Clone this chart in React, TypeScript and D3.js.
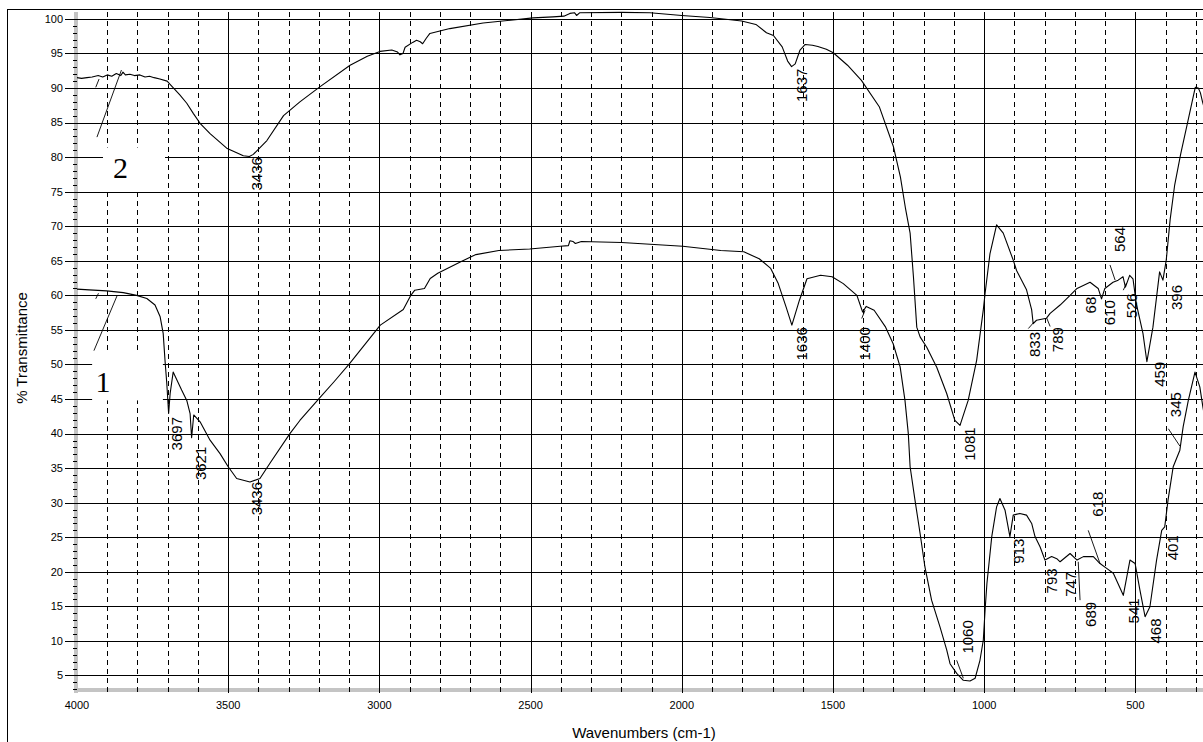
import React from 'react';
import * as d3 from 'd3';

const W = 1203;
const H = 742;

// ---------- data (wavenumber cm-1, %T) ----------
const spectrum2: [number, number][] = [
  [4000, 91.5], [3985, 91.4], [3967, 91.5], [3950, 91.6], [3930, 91.8], [3915, 91.6],
  [3900, 91.9], [3885, 91.7], [3870, 92.1], [3855, 91.8], [3848, 92.3], [3840, 91.9],
  [3825, 92.0], [3810, 91.8], [3792, 91.9], [3775, 91.6], [3760, 91.7], [3745, 91.5],
  [3726, 91.3], [3702, 91.0], [3683, 90.1], [3660, 89.0], [3637, 87.8], [3615, 86.3],
  [3593, 84.9], [3560, 83.4], [3505, 81.3], [3450, 80.2], [3430, 80.1], [3417, 80.4],
  [3372, 82.4], [3317, 86.0], [3263, 88.0], [3196, 90.2], [3097, 93.3], [3040, 94.6],
  [2998, 95.3], [2959, 95.5], [2940, 95.2], [2932, 94.8], [2922, 95.0], [2915, 95.9],
  [2890, 96.6], [2877, 96.9], [2865, 96.7], [2857, 96.4], [2845, 97.2], [2833, 97.9],
  [2767, 98.6], [2657, 99.4], [2492, 100.15], [2426, 100.3], [2390, 100.4], [2370, 100.8],
  [2355, 100.9], [2348, 100.5], [2337, 100.9], [2200, 100.95], [2105, 100.9], [2000, 100.5],
  [1907, 100.2], [1802, 99.7], [1755, 99.2], [1720, 98.0], [1697, 97.6], [1668, 95.95],
  [1650, 93.9], [1637, 93.1], [1625, 93.5], [1609, 95.5], [1592, 96.3], [1568, 96.2],
  [1550, 96.0], [1522, 95.6], [1499, 95.1], [1452, 93.3], [1406, 91.1], [1347, 87.3],
  [1300, 81.5], [1277, 77.1], [1260, 72.5], [1245, 69.0], [1234, 62.7], [1223, 55.4],
  [1212, 54.0], [1190, 52.5], [1157, 49.6], [1124, 45.8], [1097, 41.9], [1080, 41.2],
  [1053, 44.8], [1025, 50.6], [1003, 57.9], [997, 60.3], [981, 66.0], [959, 70.2],
  [937, 69.0], [904, 65.1], [893, 63.6], [860, 60.8], [843, 57.9], [838, 55.9],
  [827, 56.4], [794, 56.7], [782, 57.4], [749, 58.6], [716, 60.0], [693, 61.0],
  [650, 61.9], [623, 61.0], [612, 59.5], [601, 61.0], [574, 61.9], [557, 62.2],
  [541, 62.7], [533, 61.2], [519, 62.9], [508, 62.4], [497, 58.8], [475, 54.5],
  [462, 50.4], [442, 55.4], [420, 63.4], [409, 62.2], [398, 65.1], [385, 71.0],
  [370, 76.0], [350, 80.5], [330, 84.5], [310, 88.5], [302, 90.1], [292, 90.0],
  [285, 89.3], [278, 88.0], [265, 86.0],
];

const spectrum1: [number, number][] = [
  [4000, 60.9], [3960, 60.8], [3902, 60.65], [3847, 60.4], [3803, 60.0], [3769, 59.55],
  [3742, 58.6], [3725, 56.9], [3715, 54.5], [3709, 50.6], [3703, 47.2], [3697, 42.9],
  [3692, 45.8], [3682, 48.9], [3670, 47.8], [3654, 46.3], [3637, 44.8], [3626, 42.9],
  [3621, 39.4], [3614, 42.7], [3593, 41.7], [3560, 39.05], [3527, 37.1], [3500, 35.2],
  [3472, 33.5], [3428, 33.0], [3395, 33.5], [3362, 35.7], [3296, 40.0], [3263, 41.9],
  [3199, 45.1], [3150, 47.5], [3098, 50.15], [2997, 55.7], [2921, 57.95], [2896, 60.0],
  [2883, 60.75], [2851, 61.0], [2832, 62.45], [2807, 63.2], [2731, 64.85], [2681, 65.9],
  [2605, 66.5], [2503, 66.7], [2402, 67.1], [2375, 67.2], [2370, 67.9], [2360, 67.8],
  [2352, 67.5], [2332, 67.8], [2199, 67.65], [1997, 67.1], [1871, 66.5], [1795, 66.3],
  [1744, 65.3], [1706, 63.9], [1681, 61.7], [1655, 58.3], [1636, 55.7], [1611, 59.3],
  [1586, 62.4], [1541, 62.9], [1503, 62.7], [1466, 61.7], [1421, 60.0], [1402, 57.6],
  [1390, 58.4], [1364, 57.85], [1326, 55.4], [1301, 53.0], [1278, 49.65], [1262, 44.8],
  [1251, 40.0], [1245, 35.2], [1229, 30.4], [1212, 25.55], [1196, 20.7], [1174, 15.9],
  [1146, 12.0], [1124, 8.7], [1113, 6.7], [1091, 5.3], [1069, 4.3], [1047, 4.2],
  [1030, 4.6], [1014, 7.2], [1003, 10.1], [997, 14.5], [991, 18.3], [975, 25.1],
  [959, 29.4], [948, 30.6], [931, 28.9], [915, 25.1], [904, 28.2], [882, 28.45],
  [860, 28.2], [843, 27.0], [832, 25.1], [815, 23.6], [799, 21.7], [777, 22.2],
  [760, 21.9], [749, 21.45], [716, 22.65], [693, 21.7], [672, 22.2], [639, 22.2],
  [617, 21.2], [595, 20.5], [573, 19.8], [540, 16.6], [518, 21.7], [501, 21.2],
  [485, 17.35], [468, 13.5], [452, 14.95], [430, 21.7], [413, 26.0], [403, 26.5],
  [392, 30.4], [375, 35.2], [353, 37.6], [342, 41.0], [325, 44.8], [303, 48.9],
  [287, 46.75], [277, 43.9], [265, 41.0],
];

// peak labels: text, label wavenumber position, %T at label top
const peakLabelText = [
  '3436', '1637', '1081', '833', '789', '68', '610', '564', '526', '459', '396',
  '3697', '3621', '3436', '1636', '1400', '1060', '913', '793', '747', '689', '618',
  '541', '468', '401', '345',
];
const peakLabelW = [
  3408, 1604, 1047, 835, 758, 650, 587, 553, 514, 419, 365,
  3671, 3590, 3408, 1603, 1397, 1055, 885, 779, 716, 647, 626,
  505, 435, 376, 366,
];
const peakLabelV = [
  80.0, 92.8, 40.9, 54.7, 55.4, 59.8, 59.3, 69.9, 60.3, 50.4, 61.5,
  42.4, 38.1, 33.0, 55.4, 55.4, 13.0, 24.8, 20.5, 20.0, 15.65, 31.6,
  16.15, 13.25, 25.3, 46.0,
];

// leader lines [w1, v1, w2, v2]
const leaders: [number, number, number, number][] = [
  [1091, 7.2, 1069, 4.6],
  [656, 26.0, 617, 21.2],
  [391, 40.7, 353, 38.2],
  [1405, 56.65, 1394, 57.85],
  [854, 55.2, 838, 56.0],
  [793, 56.7, 782, 55.5],
  [584, 64.4, 567, 62.2],
  [540, 60.75, 529, 61.8],
  [689, 21.45, 683, 15.9],
  // series tags
  [3934, 82.9, 3853, 92.6],
  [3938, 90.1, 3927, 91.3],
  [3944, 52.0, 3867, 60.0],
  [3938, 59.5, 3929, 60.3],
];

// series tags
const seriesTagText = ['2', '1'];
const seriesTagW = [3856, 3914];
const seriesTagV = [76.95, 46.0];
// white boxes behind series tags [w1, v1, w2, v2]
const tagBoxes: [number, number, number, number][] = [
  [3914, 81.4, 3709, 75.3],
  [3950, 51.8, 3716, 44.8],
];

const yTickValues = [5, 10, 15, 20, 25, 30, 35, 40, 45, 50, 55, 60, 65, 70, 75, 80, 85, 90, 95, 100];
const xTickValues = [4000, 3500, 3000, 2500, 2000, 1500, 1000, 500];
const xMinorValues = [
  3900, 3800, 3700, 3600, 3400, 3300, 3200, 3100, 2900, 2800, 2700, 2600,
  2400, 2300, 2200, 2100, 1900, 1800, 1700, 1600, 1400, 1300, 1200, 1100,
  900, 800, 700, 600, 400, 300,
];

// ---------- scales ----------
const PLOT_TOP = 12;
const PLOT_BOTTOM = 690;
const x = d3.scaleLinear().domain([4000, 250]).range([77, 77 + 3750 * 0.3024]);
const y = d3.scaleLinear().domain([2.9, 101]).range([PLOT_BOTTOM, PLOT_TOP]);
const cr = (v: number) => Math.round(v) + 0.5;

const line = d3
  .line<[number, number]>()
  .x((d) => x(d[0]))
  .y((d) => y(d[1]));

const SANS = '"Liberation Sans", Arial, sans-serif';
const SERIF = '"Liberation Serif", "Times New Roman", serif';

export default function App() {
  const minorY = d3.range(3, 101, 1).filter((v) => v % 5 !== 0);
  return (
    <svg
      width={W}
      height={H}
      viewBox={`0 0 ${W} ${H}`}
      style={{ position: 'absolute', left: 0, top: 0, display: 'block', background: '#fff' }}
    >
      <rect x={0} y={0} width={W} height={H} fill="#fff" />
      {/* outer frame */}
      <rect x={7.5} y={9.5} width={1400} height={900} fill="none" stroke="#000" strokeWidth={1} />

      {/* grey axis bars */}
      <rect x={74} y={PLOT_TOP} width={4} height={PLOT_BOTTOM - PLOT_TOP + 3} fill="#c4c4c4" />
      <rect x={74} y={PLOT_BOTTOM - 2} width={1200} height={4} fill="#c4c4c4" />

      {/* horizontal grid */}
      {yTickValues.map((v) => (
        <line key={'h' + v} x1={65} x2={W} y1={cr(y(v))} y2={cr(y(v))} stroke="#000" strokeWidth={1} />
      ))}
      {/* minor y ticks */}
      {minorY.map((v) => (
        <line key={'m' + v} x1={73} x2={77} y1={cr(y(v))} y2={cr(y(v))} stroke="#000" strokeWidth={1} />
      ))}
      {/* dashed verticals */}
      {xMinorValues.map((w) => (
        <line
          key={'d' + w}
          x1={cr(x(w))}
          x2={cr(x(w))}
          y1={PLOT_TOP}
          y2={PLOT_BOTTOM + 3}
          stroke="#000"
          strokeWidth={1}
          strokeDasharray="5,4"
        />
      ))}
      {/* solid verticals */}
      {xTickValues.map((w) =>
        w === 4000 ? null : (
          <line key={'v' + w} x1={cr(x(w))} x2={cr(x(w))} y1={PLOT_TOP} y2={PLOT_BOTTOM + 3} stroke="#000" strokeWidth={1} />
        )
      )}

      {/* white boxes behind series tags */}
      {tagBoxes.map((b, i) => (
        <rect
          key={'b' + i}
          x={x(b[0])}
          y={y(b[1])}
          width={x(b[2]) - x(b[0])}
          height={y(b[3]) - y(b[1])}
          fill="#fff"
        />
      ))}

      {/* spectra */}
      <path d={line(spectrum2) || ''} fill="none" stroke="#000" strokeWidth={1.1} strokeLinejoin="round" />
      <path d={line(spectrum1) || ''} fill="none" stroke="#000" strokeWidth={1.1} strokeLinejoin="round" />

      {/* leaders */}
      {leaders.map((l, i) => (
        <line key={'l' + i} x1={x(l[0])} y1={y(l[1])} x2={x(l[2])} y2={y(l[3])} stroke="#000" strokeWidth={0.9} />
      ))}

      {/* series tags */}
      {seriesTagText.map((t, i) => (
        <text
          key={'s' + i}
          x={x(seriesTagW[i])}
          y={y(seriesTagV[i])}
          fontFamily={SERIF}
          fontSize={30}
          textAnchor="middle"
          fill="#000"
        >
          {t}
        </text>
      ))}

      {/* peak labels */}
      {peakLabelText.map((t, i) => (
        <text
          key={'p' + i}
          transform={`translate(${x(peakLabelW[i])},${y(peakLabelV[i])}) rotate(-90)`}
          textAnchor="end"
          dominantBaseline="central"
          fontFamily={SANS}
          fontSize={15}
          fill="#000"
        >
          {t}
        </text>
      ))}

      {/* y tick labels */}
      {yTickValues.map((v) => (
        <text key={'yt' + v} x={63} y={y(v)} dy="0.35em" textAnchor="end" fontFamily={SANS} fontSize={11} fill="#000">
          {v}
        </text>
      ))}
      {/* x tick labels */}
      {xTickValues.map((w) => (
        <text key={'xt' + w} x={x(w)} y={708.5} textAnchor="middle" fontFamily={SANS} fontSize={11} fill="#000">
          {w}
        </text>
      ))}

      {/* axis titles */}
      <text x={644} y={738} textAnchor="middle" fontFamily={SANS} fontSize={15} fill="#000">
        Wavenumbers (cm-1)
      </text>
      <text
        transform="translate(21,348) rotate(-90)"
        textAnchor="middle"
        dominantBaseline="central"
        fontFamily={SANS}
        fontSize={15}
        fill="#000"
      >
        % Transmittance
      </text>
    </svg>
  );
}
